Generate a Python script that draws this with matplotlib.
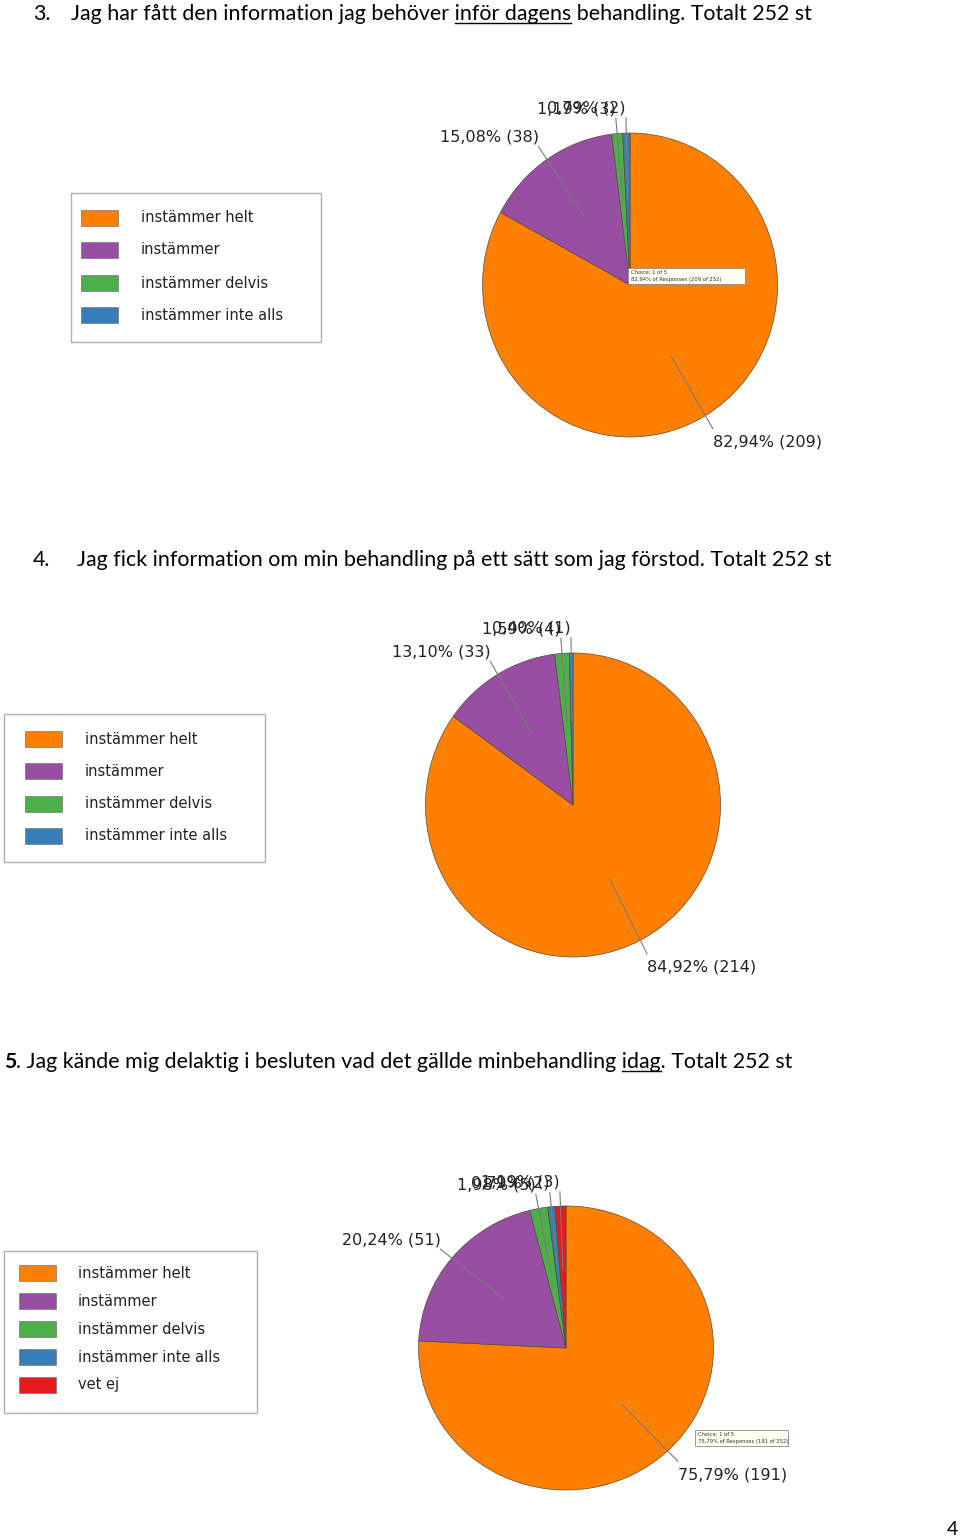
import matplotlib
matplotlib.use("Agg")
import matplotlib.pyplot as plt
from matplotlib.patches import Rectangle
from matplotlib.lines import Line2D
import numpy as np

# data
labels_q3 = ["instämmer helt", "instämmer", "instämmer delvis", "instämmer inte alls"]
counts_q3 = [209, 38, 3, 2]
labels_q4 = ["instämmer helt", "instämmer", "instämmer delvis", "instämmer inte alls"]
counts_q4 = [214, 33, 4, 1]
labels_q5 = ["instämmer helt", "instämmer", "instämmer delvis", "instämmer inte alls", "vet ej"]
counts_q5 = [191, 51, 5, 2, 3]
colors = ["#FF7F00", "#984EA3", "#4DAF4A", "#377EB8", "#E41A1C"]

W, H = 960, 1539
fig = plt.figure(figsize=(9.6, 15.39), dpi=100)
renderer = fig.canvas.get_renderer()
TITLE_FONT = "Lato"
LABEL_FONT = "DejaVu Sans"


def fx(x):
    return x / W


def fy(y):
    return 1 - y / H


def text_width(s, **kw):
    t = fig.text(0, 0, s, **kw)
    w = t.get_window_extent(renderer).width
    t.remove()
    return w


def prefix_width(s, **kw):
    return text_width(s + "a", **kw) - text_width("a", **kw)


def fit_size(s, target, family, weight="normal"):
    w = text_width(s, family=family, fontsize=14, weight=weight)
    return 14 * target / w


def pct(c, total):
    return f"{100 * c / total:.2f}".replace(".", ",") + "%"


def title(num, num_x, body, body_x, end_x, base_y, underline=None, bold_num=False):
    size = fit_size(body, end_x - body_x, TITLE_FONT)
    nw = "bold" if bold_num else "normal"
    fig.text(fx(num_x), fy(base_y), num, family=TITLE_FONT, fontsize=size,
             weight=nw, va="baseline", color="black")
    fig.text(fx(body_x), fy(base_y), body, family=TITLE_FONT, fontsize=size,
             va="baseline", color="black")
    if underline:
        i = body.index(underline)
        u0 = body_x + prefix_width(body[:i], family=TITLE_FONT, fontsize=size)
        u1 = u0 + text_width(underline, family=TITLE_FONT, fontsize=size)
        fig.add_artist(Line2D([fx(u0), fx(u1)], [fy(base_y + 3), fy(base_y + 3)],
                              transform=fig.transFigure, color="black", lw=1))


def legend(x0, y0, x1, y1, patch_x, text_x, rows, labels):
    fig.add_artist(Rectangle((fx(x0), fy(y1)), (x1 - x0) / W, (y1 - y0) / H,
                             transform=fig.transFigure, facecolor="white",
                             edgecolor="#b0b0b0", lw=1.0))
    size = fit_size("instämmer inte alls", 142, LABEL_FONT)
    for y, lab, col in zip(rows, labels, colors):
        fig.add_artist(Rectangle((fx(patch_x), fy(y + 8)), 37 / W, 16 / H,
                                 transform=fig.transFigure, facecolor=col,
                                 edgecolor="#777777", lw=0.5))
        fig.text(fx(text_x), fy(y), lab, family=LABEL_FONT, fontsize=size,
                 va="center", ha="left", color="#222222")


def pie(cx, cy, rx, ry, counts):
    ax = fig.add_axes([fx(cx - rx), fy(cy + ry), 2 * rx / W, 2 * ry / H])
    wedges, _ = ax.pie(counts, colors=colors[:len(counts)], startangle=90,
                       counterclock=False,
                       wedgeprops=dict(edgecolor="#5a4a3a", linewidth=0.5))
    ax.set_aspect("auto")
    ax.set_xlim(-1, 1)
    ax.set_ylim(-1, 1)
    ax.axis("off")
    total = sum(counts)
    for w, c in zip(wedges, counts):
        a = np.deg2rad((w.theta1 + w.theta2) / 2)
        ca, sa = np.cos(a), np.sin(a)
        ax.plot([0.55 * ca, 1.1 * ca], [0.55 * sa, 1.1 * sa], color="#7a7a7a",
                lw=0.8, clip_on=False)
        ax.annotate(f"{pct(c, total)} ({c})", (1.1 * ca, 1.1 * sa),
                    xytext=(0, 2 if sa > 0 else -6), textcoords="offset pixels",
                    ha="left" if ca >= 0 else "right",
                    va="bottom" if sa > 0 else "top",
                    family=LABEL_FONT, fontsize=11.5, color="#222222",
                    annotation_clip=False)
    return total


def tooltip(x0, y0, x1, y1, counts):
    total = sum(counts)
    box = Rectangle((fx(x0), fy(y1)), (x1 - x0) / W, (y1 - y0) / H,
                    transform=fig.transFigure, facecolor="#FFFFF2",
                    edgecolor="#8a8a8a", lw=0.6)
    fig.add_artist(box)
    lines = ["Choice: 1 of 5",
             f"{pct(counts[0], total)} of Responses ({counts[0]} of {total})"]
    for k, s in enumerate(lines):
        t = fig.text(fx(x0 + 3), fy(y0 + 4.5 + 7 * k), s, family=LABEL_FONT,
                     fontsize=3.8, va="center", color="#333333")
        t.set_clip_path(box)


# question 3
title("3.", 33, "Jag har fått den information jag behöver inför dagens behandling. Totalt 252 st",
      71, 813, 20, "inför dagens")
pie(630, 285, 147.5, 152, counts_q3)
legend(71, 193, 321, 342, 81, 141, [218, 250, 283, 315], labels_q3)
tooltip(628, 268, 745, 284, counts_q3)

# question 4
title("4.", 33, "Jag fick information om min behandling på ett sätt som jag förstod. Totalt 252 st",
      77, 832, 566)
pie(573, 805, 147.5, 152, counts_q4)
legend(4, 714, 265, 862, 25, 85, [739, 771, 804, 836], labels_q4)

# question 5
body5 = ". Jag kände mig delaktig i besluten vad det gällde minbehandling idag. Totalt 252 st"
num_w = text_width("5", family=TITLE_FONT, fontsize=fit_size(body5, 780, TITLE_FONT),
                   weight="bold")
title("5", 4, body5, 4 + num_w, 794, 1068, "idag", bold_num=True)
pie(566, 1348, 147.5, 142, counts_q5)
legend(4, 1251, 257, 1413, 19, 78, [1273, 1301, 1329, 1357, 1385], labels_q5)
tooltip(695, 1430, 788, 1446, counts_q5)

fig.text(fx(958), fy(1535), "4", family=TITLE_FONT, fontsize=14, ha="right",
         va="baseline", color="black")

fig.savefig("out.png", dpi=100, facecolor="white")
